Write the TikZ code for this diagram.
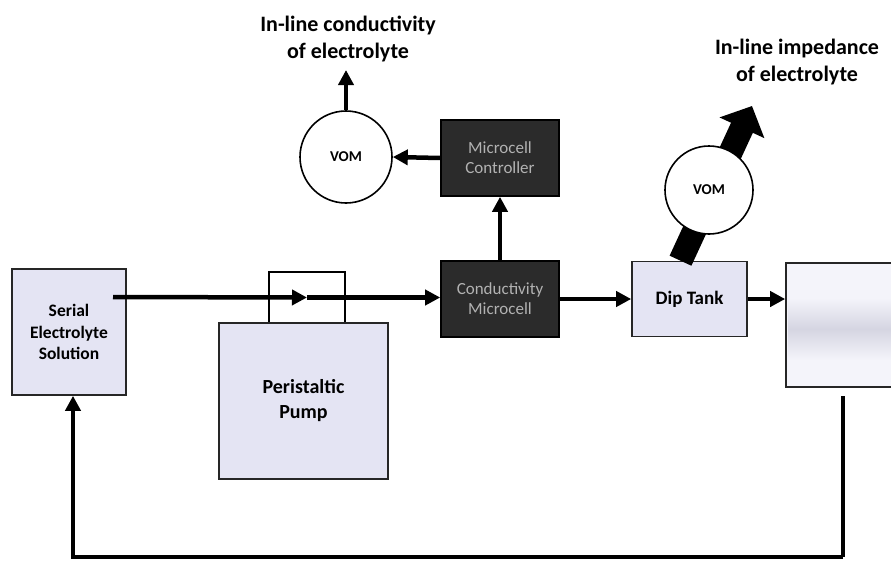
\documentclass[tikz,border=0pt]{standalone}
\usepackage{fontspec}
\setmainfont{Carlito}
\usetikzlibrary{arrows.meta, positioning}
\definecolor{lav}{HTML}{E4E4F3}
\definecolor{dark}{HTML}{2B2B2B}

\begin{document}
\begin{tikzpicture}[x=1pt,y=-1pt,
    box/.style={draw=black!85,line width=1.6pt,fill=lav,inner sep=0pt,align=center},
    dbox/.style={draw=black,line width=1.6pt,fill=dark,text=black!30,align=center,
      minimum width=118pt,minimum height=76pt,font=\fontsize{17}{20}\selectfont},
    vom/.style={draw,circle,line width=1.6pt,fill=white,inner sep=0pt,
      font=\bfseries\fontsize{15}{18}\selectfont},
    flow/.style={line width=4.5pt,-{Triangle[length=15pt,width=15pt]}},
    title/.style={align=center,font=\bfseries\fontsize{22}{27}\selectfont}]
  \useasboundingbox (0,0) rectangle (891,565);
  % boxes along the loop
  \node[box,minimum width=114pt,minimum height=126pt,
    font=\bfseries\fontsize{17.5}{21.5}\selectfont] (serial) at (69,332) {Serial\\Electrolyte\\Solution};
  \node[draw,line width=1.2pt,fill=white,minimum width=76pt,minimum height=51pt] (head) at (307,297.5) {};
  \node[box,minimum width=169pt,minimum height=156pt,
    font=\bfseries\fontsize{20}{25}\selectfont] (pump) at (303.5,401) {Peristaltic\\Pump};
  \node[dbox] (micro) at (500,299) {Conductivity\\Microcell};
  \node[dbox] (ctrl) at (500,158) {Microcell\\Controller};
  \node[vom,minimum size=92pt] (vom1) at (346,157) {VOM};
  \node[box,minimum width=115pt,minimum height=75pt,
    font=\bfseries\fontsize{19}{23}\selectfont] (dip) at (689.5,299) {Dip Tank};
  \node[box,fill=lav!40,minimum width=120pt,minimum height=124pt] (tank) at (846,325) {};
  \shade[top color=lav!40,bottom color=lav!40,middle color=lav!85!gray] (788,298) rectangle (891,360);
  \node[title] (lab1) at (348,39) {In-line conductivity\\of electrolyte};
  \node[title] (lab2) at (797,62) {In-line impedance\\of electrolyte};
  % connectors
  \coordinate (s0) at (113,297);
  \coordinate (out1) at (346,70);
  \coordinate (out2) at (752,106);
  \coordinate (r0) at (843,396);
  \coordinate (bot) at (0,557);
  \draw[flow] (s0) -- (head.center);
  \draw[flow] (head.center) -- (head.center -| micro.west);
  \draw[flow] (micro.north) -- (ctrl.south);
  \draw[flow] (ctrl.west) -- (vom1.east);
  \draw[flow] (vom1.north) -- (out1);
  \draw[flow] (micro.east) -- (dip.west);
  \draw[flow] (dip.east) -- (dip.east -| tank.west);
  \draw[line width=24pt,-{Triangle[length=24pt,width=48pt]}] ([xshift=-9pt]dip.north) -- (out2);
  \node[vom,minimum size=88pt] (vom2) at (709,190) {VOM};
  \draw[line width=3.5pt] (r0) -- (r0 |- bot);
  \draw[flow] (r0 |- bot) -| ([xshift=4pt]serial.south);
\end{tikzpicture}
\end{document}
